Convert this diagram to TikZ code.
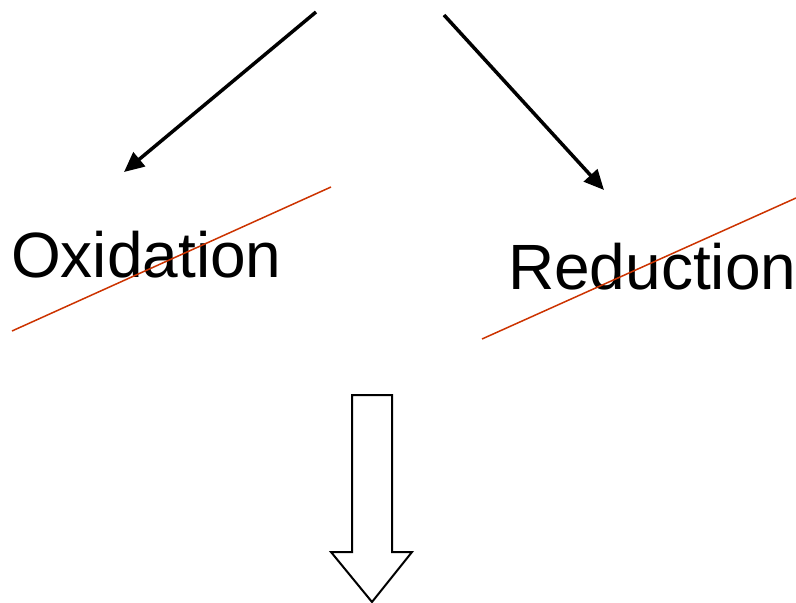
\documentclass[tikz,border=0pt]{standalone}
\usepackage{fontspec}
\setmainfont{Liberation Sans}
\usetikzlibrary{arrows.meta}
\definecolor{strike}{RGB}{204,51,0}
\begin{document}
\begin{tikzpicture}[x=1pt, y=-1pt]
	\useasboundingbox (0,0) rectangle (796,603);
	\begin{scope} [every node/.style={anchor=base west, inner sep=0pt, font=\fontsize{64}{64}\selectfont}]
		\node (ox) at (11,277){Oxidation};
		\node (red) at (508,289){Reduction};
	\end{scope}
	\coordinate (t1) at (316,12);
	\coordinate (t2) at (444,15);
	\coordinate (h1) at (124,172);
	\coordinate (h2) at (604,190);
	\draw[black, line width=3.5pt, -{Triangle[length=20pt,width=18pt]}] (t1) -- (h1);
	\draw[black, line width=3.5pt, -{Triangle[length=20pt,width=18pt]}] (t2) -- (h2);
	\draw[strike, line width=1.5pt] (12,331) -- (331,187);
	\draw[strike, line width=1.5pt] (482,339) -- (796,198);
	\draw[black, line width=2pt, fill=white] (352,395) -- (392,395) -- (392,552) -- (412,552)
		-- (372,602) -- (331,552) -- (352,552) -- cycle;
\end{tikzpicture}
\end{document}
